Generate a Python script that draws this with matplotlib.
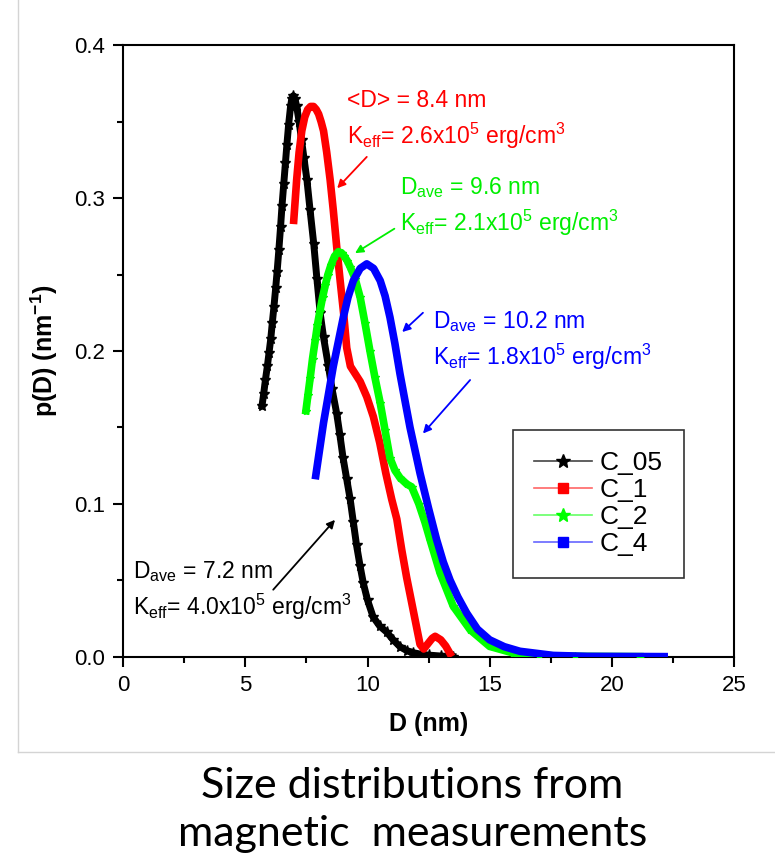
import matplotlib
matplotlib.use("Agg")
import matplotlib.pyplot as plt
from matplotlib.lines import Line2D
from matplotlib.ticker import MultipleLocator

plt.rcParams['font.family'] = ['Liberation Sans', 'DejaVu Sans']
plt.rcParams['mathtext.fontset'] = 'custom'
plt.rcParams['mathtext.rm'] = 'Liberation Sans'
plt.rcParams['mathtext.bf'] = 'Liberation Sans:bold'
plt.rcParams['mathtext.default'] = 'regular'

# C_05 (negro, estrellas)
d_c05 = [5.68, 5.75, 5.82, 5.9, 5.97, 6.04, 6.1, 6.17, 6.24, 6.3, 6.37, 6.44, 6.5, 6.57,
         6.64, 6.7, 6.77, 6.85, 6.9, 6.96, 7.03, 7.1, 7.2, 7.3, 7.4, 7.52, 7.65, 7.8, 7.93,
         8.06, 8.2, 8.4, 8.55, 8.74, 8.87, 9.0, 9.15, 9.29, 9.42, 9.55, 9.7, 9.83, 10.0,
         10.23, 10.5, 10.79, 11.05, 11.33, 11.6, 11.87, 12.2, 12.5, 13.0, 13.5]
p_c05 = [0.164, 0.172, 0.181, 0.19, 0.199, 0.208, 0.218, 0.229, 0.241, 0.252, 0.266, 0.281,
         0.295, 0.309, 0.323, 0.335, 0.348, 0.36, 0.365, 0.367, 0.365, 0.36, 0.35, 0.338,
         0.326, 0.312, 0.292, 0.27, 0.247, 0.225, 0.209, 0.19, 0.175, 0.159, 0.145, 0.13,
         0.116, 0.103, 0.088, 0.073, 0.059, 0.048, 0.037, 0.026, 0.02, 0.016, 0.011, 0.0065,
         0.004, 0.0026, 0.0015, 0.001, 0.0004, 0.0]

# C_1 (rojo)
d_c1 = [6.97, 7.1, 7.2, 7.31, 7.43, 7.55, 7.67, 7.79, 7.9, 8.0, 8.1, 8.2, 8.33, 8.47, 8.6,
        8.74, 8.88, 9.02, 9.15, 9.3, 9.5, 9.7, 9.97, 10.24, 10.5, 10.75, 10.99, 11.2, 11.4,
        11.6, 11.8, 12.0, 12.15, 12.3, 12.5, 12.65, 12.77, 12.9, 13.0, 13.2, 13.45]
p_c1 = [0.283, 0.312, 0.33, 0.344, 0.353, 0.358, 0.36, 0.36, 0.358, 0.355, 0.35, 0.344, 0.33,
        0.312, 0.292, 0.268, 0.246, 0.225, 0.202, 0.19, 0.185, 0.18, 0.17, 0.157, 0.14, 0.12,
        0.103, 0.09, 0.07, 0.052, 0.036, 0.02, 0.008, 0.005, 0.009, 0.012, 0.0133, 0.012,
        0.011, 0.007, 0.0]

# C_2 (verde)
d_c2 = [7.48, 7.56, 7.65, 7.75, 7.86, 7.95, 8.05, 8.16, 8.27, 8.38, 8.5, 8.65, 8.81, 8.95,
        9.05, 9.17, 9.29, 9.5, 9.7, 9.9, 10.1, 10.3, 10.52, 10.72, 10.92, 11.12, 11.33, 11.6,
        11.81, 12.1, 12.35, 12.56, 12.97, 13.51, 14.2, 15.0, 15.96, 17.0, 18.5, 21.15]
p_c2 = [0.161, 0.171, 0.182, 0.195, 0.207, 0.217, 0.226, 0.235, 0.243, 0.25, 0.256, 0.262,
        0.265, 0.264, 0.262, 0.259, 0.255, 0.247, 0.235, 0.218, 0.2, 0.183, 0.166, 0.148,
        0.13, 0.122, 0.117, 0.113, 0.111, 0.1, 0.088, 0.0765, 0.0547, 0.033, 0.0176, 0.0067,
        0.0024, 0.0008, 0.0002, 0.0]

# C_4 (azul)
d_c4 = [7.86, 8.2, 8.6, 9.01, 9.2, 9.42, 9.7, 9.97, 10.25, 10.52, 10.72, 10.92, 11.12, 11.33,
        11.54, 11.74, 12.15, 12.5, 12.83, 13.1, 13.38, 13.7, 14.06, 14.5, 15.0, 15.6, 16.24,
        17.6, 19.0, 22.3]
p_c4 = [0.116, 0.153, 0.19, 0.222, 0.235, 0.246, 0.254, 0.257, 0.254, 0.246, 0.236, 0.222,
        0.205, 0.185, 0.167, 0.15, 0.12, 0.097, 0.0765, 0.062, 0.05, 0.039, 0.0285, 0.018,
        0.011, 0.0065, 0.0035, 0.0008, 0.0002, 0.0]

fig = plt.figure(figsize=(7.75, 8.55), dpi=100)
ax = fig.add_axes([0.159, 0.232, 0.788, 0.715])

# borde gris claro de la imagen original
fig.add_artist(Line2D([0.023, 0.023], [0.12, 1.0], color='#d4d4d4', lw=1))
fig.add_artist(Line2D([0.023, 1.0], [0.12, 0.12], color='#d4d4d4', lw=1))

ax.plot(d_c05, p_c05, color='black', lw=5, marker='*', ms=8, zorder=3)
ax.plot(d_c1, p_c1, color='#ff0000', lw=5.5, solid_capstyle='butt', zorder=4)
ax.plot(d_c2, p_c2, color='#00ff00', lw=5.5, marker='*', ms=6, zorder=5)
ax.plot(d_c4, p_c4, color='#0000ff', lw=5.5, solid_capstyle='butt', zorder=6)

ax.set_xlim(0, 25)
ax.set_ylim(0, 0.4)
ax.xaxis.set_major_locator(MultipleLocator(5))
ax.xaxis.set_minor_locator(MultipleLocator(2.5))
ax.yaxis.set_major_locator(MultipleLocator(0.1))
ax.yaxis.set_minor_locator(MultipleLocator(0.05))
ax.tick_params(which='major', direction='out', length=7, width=1.5, labelsize=16, pad=6)
ax.tick_params(which='minor', direction='out', length=4, width=1.5)
for sp in ax.spines.values():
    sp.set_linewidth(1.5)

ax.set_xlabel('D (nm)', fontsize=18, fontweight='bold', labelpad=12)
ax.set_ylabel(r'p(D) (nm$\mathbf{^{-1}}$)', fontsize=18, fontweight='bold', labelpad=10)

# Anotaciones
txt = dict(fontsize=16.5, va='center', ha='left')
ax.text(9.17, 0.364, '<D> = 8.4 nm', color='#ff0000', **txt)
ax.text(9.17, 0.341, r'K$_{eff}$= 2.6x10$^5$ erg/cm$^3$', color='#ff0000', **txt)
ax.text(11.33, 0.307, r'D$_{ave}$ = 9.6 nm', color='#00ee00', **txt)
ax.text(11.33, 0.284, r'K$_{eff}$= 2.1x10$^5$ erg/cm$^3$', color='#00ee00', **txt)
ax.text(12.68, 0.219, r'D$_{ave}$ = 10.2 nm', color='#0000ff', **txt)
ax.text(12.68, 0.196, r'K$_{eff}$= 1.8x10$^5$ erg/cm$^3$', color='#0000ff', **txt)
ax.text(0.41, 0.0556, r'D$_{ave}$ = 7.2 nm', color='black', **txt)
ax.text(0.41, 0.0327, r'K$_{eff}$= 4.0x10$^5$ erg/cm$^3$', color='black', **txt)

def flecha(x0, y0, x1, y1, c):
    ax.annotate('', xy=(x1, y1), xytext=(x0, y0),
                arrowprops=dict(arrowstyle='-|>', color=c, lw=1.3, mutation_scale=12,
                                shrinkA=0, shrinkB=0))

flecha(9.97, 0.327, 8.76, 0.3065, '#ff0000')
flecha(11.1, 0.28, 9.49, 0.264, '#00ee00')
flecha(12.27, 0.225, 11.42, 0.2124, '#0000ff')
flecha(14.2, 0.181, 12.27, 0.146, '#0000ff')
flecha(6.14, 0.0438, 8.67, 0.0895, 'black')

handles = [
    Line2D([], [], color='#444444', lw=1.2, marker='*', ms=10, mfc='black', mec='black'),
    Line2D([], [], color='#ff6666', lw=1.2, marker='s', ms=7, mfc='#ff0000', mec='#ff0000'),
    Line2D([], [], color='#66ff66', lw=1.2, marker='*', ms=10, mfc='#00ff00', mec='#00ff00'),
    Line2D([], [], color='#6666ff', lw=1.2, marker='s', ms=7, mfc='#0000ff', mec='#0000ff'),
]
leg = ax.legend(handles, ['C_05', 'C_1', 'C_2', 'C_4'], loc='upper left',
                bbox_to_anchor=(0.638, 0.371), fontsize=19, frameon=True, fancybox=False,
                edgecolor='black', handlelength=2.2, labelspacing=0.12, borderpad=0.8,
                handletextpad=0.3, borderaxespad=0)
leg.get_frame().set_linewidth(1.2)

fig.text(0.532, 0.081, 'Size distributions from', fontsize=31, family='Lato',
         ha='center', va='center')
fig.text(0.532, 0.024, 'magnetic  measurements', fontsize=31, family='Lato',
         ha='center', va='center')

fig.savefig('out.png', dpi=100)
